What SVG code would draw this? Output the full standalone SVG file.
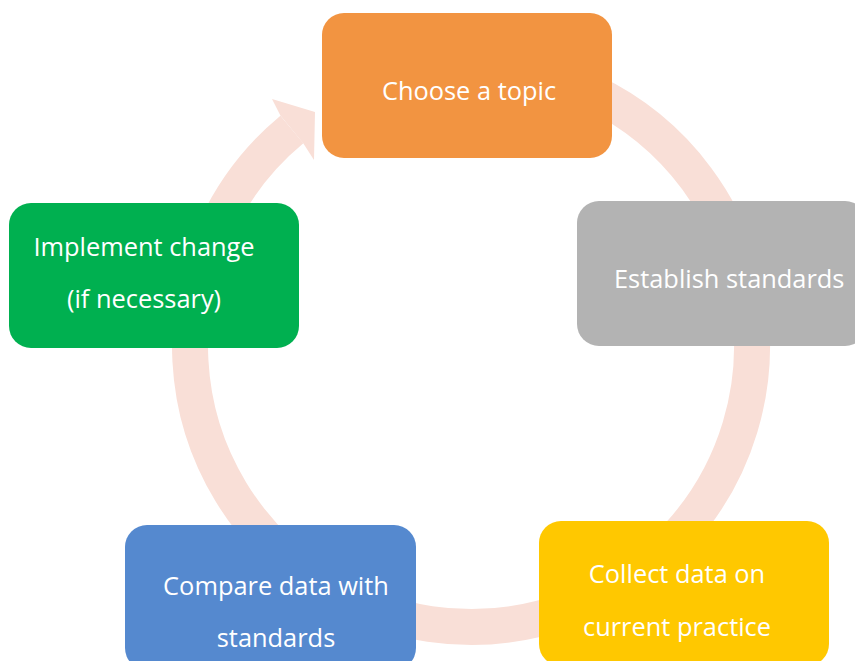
<svg xmlns="http://www.w3.org/2000/svg" width="855" height="661" viewBox="0 0 855 661">
<style>
.ring{fill:none;stroke:#F9DFD7;stroke-width:36}
.head{fill:#F9DFD7}
.box text{font-family:"Open Sans","Liberation Sans",sans-serif;font-size:25.4px;fill:#FFFFFF}
</style>
<rect width="855" height="661" fill="#FFFFFF"/>
<g id="connectors">
<path class="ring" d="M471,65 A281,281 0 1 1 291.9,129.5"/>
<polygon class="head" points="280.4,115.6 272,99 315,112 314,160 303.4,143.4"/>
</g>
<g id="node-choose" class="box">
<rect x="322" y="13" width="290" height="145" rx="22" fill="#F29441"/>
<text x="469" y="100" text-anchor="middle">Choose a topic</text>
</g>
<g id="node-establish" class="box">
<rect x="577" y="201" width="290" height="145" rx="22" fill="#B3B3B3"/>
<text x="614" y="288">Establish standards</text>
</g>
<g id="node-collect" class="box">
<rect x="539" y="521" width="290" height="145" rx="22" fill="#FFC800"/>
<text x="677" y="583" text-anchor="middle">Collect data on</text>
<text x="677" y="636" text-anchor="middle">current practice</text>
</g>
<g id="node-compare" class="box">
<rect x="125" y="525" width="291" height="145" rx="22" fill="#5589CF"/>
<text x="276" y="595" text-anchor="middle">Compare data with</text>
<text x="276" y="647" text-anchor="middle">standards</text>
</g>
<g id="node-implement" class="box">
<rect x="9" y="203" width="290" height="145" rx="22" fill="#00B050"/>
<text x="144" y="256" text-anchor="middle">Implement change</text>
<text x="144" y="308" text-anchor="middle">(if necessary)</text>
</g>
</svg>
